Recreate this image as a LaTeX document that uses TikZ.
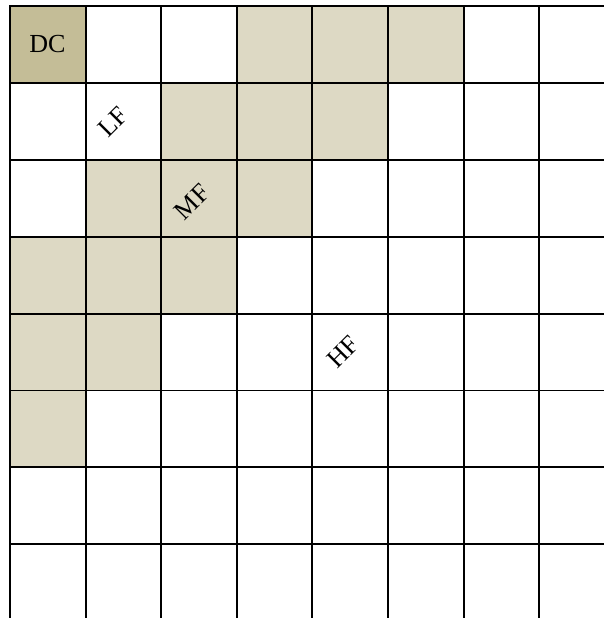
\documentclass[tikz,border=0pt]{standalone}
\usepackage{fontspec}
\setmainfont{Liberation Serif}
\usepackage{tikz}
\usetikzlibrary{positioning}
\definecolor{tanlight}{HTML}{DDD9C4}
\definecolor{tandark}{HTML}{C4BD97}
\tikzset{
  gridline/.style={black,line width=0.55pt,line cap=rect},
  dccell/.style={fill=tandark},
  bandcell/.style={fill=tanlight},
  celltext/.style={font=\fontsize{7.4}{9}\selectfont,inner sep=0pt},
  bandlabel/.style={celltext,rotate=45},
}
\newcommand{\cellw}{75.6}
\newcommand{\cellh}{76.9}

\begin{document}
\begin{tikzpicture}[x=0.01cm,y=-0.01cm]
  \useasboundingbox (0,0) rectangle (604,618);
  % shaded cells
  \path[dccell] (10,6) rectangle ++(\cellw,\cellh);
  \foreach \row/\col in {0/3,0/4,0/5,1/2,1/3,1/4,2/1,2/2,2/3,3/0,3/1,3/2,4/0,4/1,5/0}
    \path[bandcell] ({10+\col*\cellw},{6+\row*\cellh}) rectangle ++(\cellw,\cellh);
  % grid
  \foreach \i in {0,...,7} {
    \draw[gridline] ({10+\i*\cellw},6) -- ({10+\i*\cellw},620);
    \draw[gridline] (10,{6+\i*\cellh}) -- (606,{6+\i*\cellh});
  }
  % labels
  \node[celltext] (nDC) at (47.5,44.5) {DC};
  \node[bandlabel] (nLF) at (113,122) {LF};
  \node[bandlabel] (nMF) at (192,202) {MF};
  \node[bandlabel] (nHF) at (343,352) {HF};
\end{tikzpicture}
\end{document}
